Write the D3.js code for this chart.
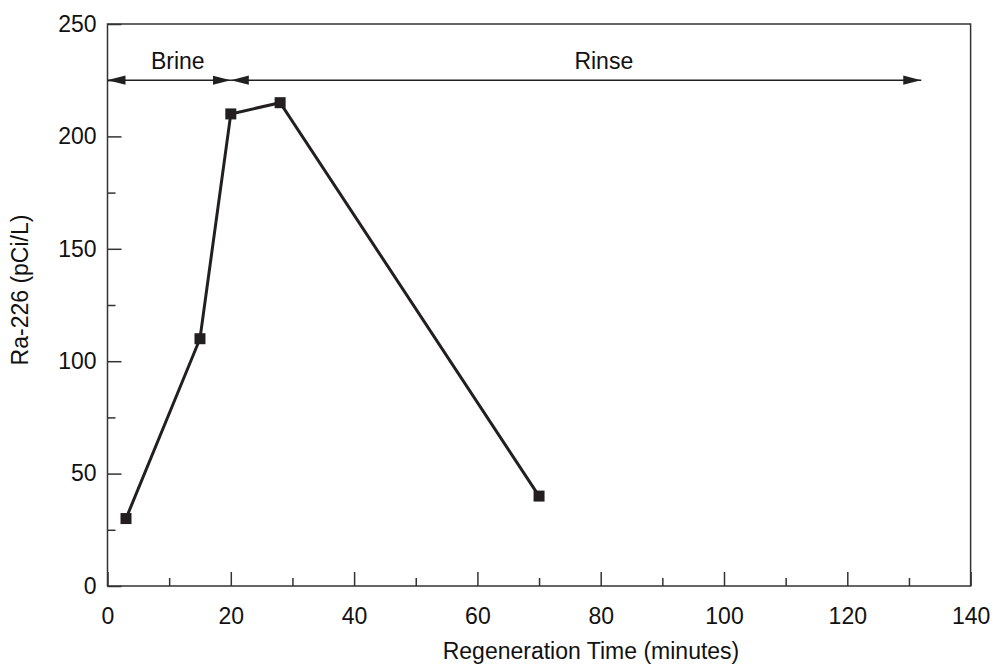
<!DOCTYPE html>
<html>
<head>
<meta charset="utf-8">
<script src="https://cdn.jsdelivr.net/npm/d3@7/dist/d3.min.js"></script>
<style>
  html, body { margin: 0; padding: 0; background: #fff; }
  svg text { font-family: "Liberation Sans", Arial, Helvetica, sans-serif; fill: #111; }
</style>
</head>
<body>
<svg id="chart" width="997" height="664"></svg>
<script>
// Ra-226 concentration during ion-exchange regeneration
const timeMin = [3, 15, 20, 28, 70];
const ra226 = [30, 110, 210, 215, 40];

const xMajorTicks = [0, 20, 40, 60, 80, 100, 120, 140];
const xMinorTicks = [10, 30, 50, 70, 90, 110, 130];
const yMajorTicks = [0, 50, 100, 150, 200, 250];
const yMinorTicks = [25, 75, 125, 175, 225];

// Phase spans (minutes) drawn as double-headed arrows at a fixed level
const phaseNames = ["Brine", "Rinse"];
const phaseStart = [0, 20];
const phaseEnd = [20, 132];
const phaseLabelAt = [11.4, 80.5];
const phaseLevel = 225;

const xTitle = "Regeneration Time (minutes)";
const yTitle = "Ra-226 (pCi/L)";

const ink = "#231f20";
const axisInk = "#333";
const fontSize = 23;

const margin = { left: 107.5, right: 997 - 970.6, top: 24, bottom: 664 - 586 };
const W = 997, H = 664;

const svg = d3.select("#chart");

const x = d3.scaleLinear().domain([0, 140]).range([margin.left, W - margin.right]);
const y = d3.scaleLinear().domain([0, 250]).range([H - margin.bottom, margin.top]);

// Minor ticks (inward, shorter)
svg.append("g")
  .attr("transform", `translate(0,${y(0)})`)
  .call(d3.axisBottom(x).tickValues(xMinorTicks).tickSize(-8).tickFormat(""))
  .call(g => g.select(".domain").remove())
  .call(g => g.selectAll("line").attr("stroke", axisInk).attr("stroke-width", 1.5));

svg.append("g")
  .attr("transform", `translate(${x(0)},0)`)
  .call(d3.axisLeft(y).tickValues(yMinorTicks).tickSize(-8).tickFormat(""))
  .call(g => g.select(".domain").remove())
  .call(g => g.selectAll("line").attr("stroke", axisInk).attr("stroke-width", 1.5));

// Major ticks with labels
svg.append("g")
  .attr("transform", `translate(0,${y(0)})`)
  .call(d3.axisBottom(x).tickValues(xMajorTicks).tickSize(-14).tickPadding(22).tickFormat(d3.format("d")))
  .call(g => g.select(".domain").remove())
  .call(g => g.selectAll("line").attr("stroke", axisInk).attr("stroke-width", 1.5))
  .call(g => g.selectAll("text")
    .attr("font-size", fontSize)
    .attr("font-family", "Liberation Sans, Arial, sans-serif")
    .attr("fill", "#111"));

svg.append("g")
  .attr("transform", `translate(${x(0)},0)`)
  .call(d3.axisLeft(y).tickValues(yMajorTicks).tickSize(-14).tickPadding(11).tickFormat(d3.format("d")))
  .call(g => g.select(".domain").remove())
  .call(g => g.selectAll("line").attr("stroke", axisInk).attr("stroke-width", 1.5))
  .call(g => g.selectAll("text")
    .attr("font-size", fontSize)
    .attr("font-family", "Liberation Sans, Arial, sans-serif")
    .attr("fill", "#111"));

// Frame
svg.append("rect")
  .attr("x", x(0)).attr("y", y(250))
  .attr("width", x(140) - x(0)).attr("height", y(0) - y(250))
  .attr("fill", "none").attr("stroke", axisInk).attr("stroke-width", 1.5);

// Arrowheads
const defs = svg.append("defs");
defs.append("marker")
  .attr("id", "head")
  .attr("viewBox", "0 0 18 10")
  .attr("refX", 18).attr("refY", 5)
  .attr("markerWidth", 18).attr("markerHeight", 10)
  .attr("markerUnits", "userSpaceOnUse")
  .attr("orient", "auto-start-reverse")
  .append("path")
  .attr("d", "M0,0.4 L18,5 L0,9.6 Z")
  .attr("fill", ink);

phaseNames.forEach((name, i) => {
  svg.append("line")
    .attr("x1", x(phaseStart[i])).attr("x2", x(phaseEnd[i]))
    .attr("y1", y(phaseLevel)).attr("y2", y(phaseLevel))
    .attr("stroke", ink).attr("stroke-width", 1.5)
    .attr("marker-start", "url(#head)")
    .attr("marker-end", "url(#head)");
  svg.append("text")
    .attr("x", x(phaseLabelAt[i]))
    .attr("y", y(phaseLevel) - 11)
    .attr("text-anchor", "middle")
    .attr("font-size", fontSize)
    .text(name);
});

// Data line and square markers
const line = d3.line().x(d => x(d[0])).y(d => y(d[1]));
const pts = timeMin.map((t, i) => [t, ra226[i]]);

svg.append("path")
  .datum(pts)
  .attr("d", line)
  .attr("fill", "none")
  .attr("stroke", ink)
  .attr("stroke-width", 3)
  .attr("stroke-linejoin", "miter");

const sq = 11;
svg.selectAll("rect.pt")
  .data(pts)
  .join("rect")
  .attr("class", "pt")
  .attr("x", d => x(d[0]) - sq / 2)
  .attr("y", d => y(d[1]) - sq / 2)
  .attr("width", sq).attr("height", sq)
  .attr("fill", ink);

// Axis titles
svg.append("text")
  .attr("x", 591)
  .attr("y", 659)
  .attr("text-anchor", "middle")
  .attr("font-size", fontSize)
  .text(xTitle);

svg.append("text")
  .attr("transform", `translate(28,290) rotate(-90)`)
  .attr("text-anchor", "middle")
  .attr("font-size", fontSize)
  .text(yTitle);
</script>
</body>
</html>
